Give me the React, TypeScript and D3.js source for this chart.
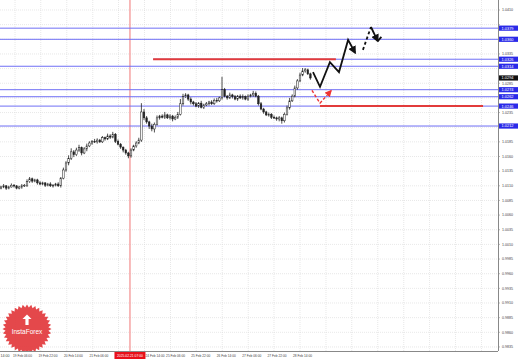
import React from "react";
import * as d3 from "d3";

const W = 519;
const H = 360;
const PLOT_RIGHT = 498;
const PLOT_BOTTOM = 351;

// Closing prices of each candle
const closes = [
  1.0108, 1.011, 1.0106, 1.0108, 1.0111, 1.011, 1.0106, 1.0108, 1.011, 1.0111,
  1.0117, 1.0122, 1.0118, 1.012,
  1.0115, 1.0113, 1.0115, 1.0111, 1.0113, 1.011, 1.0111, 1.0113, 1.011,
  1.0123, 1.0137, 1.0149, 1.0157,
  1.0168, 1.0163, 1.0171, 1.0175, 1.0166, 1.0173, 1.0178,
  1.0183, 1.0186, 1.0185, 1.0188, 1.0185,
  1.0192, 1.019, 1.0195, 1.0193, 1.0198,
  1.0186, 1.0181, 1.0176, 1.0171, 1.0166,
  1.0161,
  1.0171, 1.0178, 1.0183, 1.0188,
  1.0236, 1.0226,
  1.0219, 1.0212, 1.0207, 1.0215,
  1.0226, 1.0229, 1.0227, 1.0231, 1.0226, 1.0229, 1.0224, 1.0227, 1.0232,
  1.025, 1.0262, 1.0265, 1.0258, 1.0253,
  1.025, 1.0246, 1.0251, 1.0244, 1.0248, 1.025, 1.0253, 1.025,
  1.0256, 1.0255, 1.026,
  1.0274,
  1.0263, 1.026, 1.0265, 1.0262, 1.0258, 1.0263, 1.026, 1.0262, 1.0258, 1.0263, 1.0265, 1.0268, 1.0263,
  1.025, 1.0241, 1.0236, 1.0231, 1.0232,
  1.0227, 1.0226, 1.0224, 1.0226, 1.0221,
  1.0232, 1.0243, 1.0255, 1.0263,
  1.0277, 1.0289, 1.0299,
  1.0306, 1.0308, 1.0301, 1.0294,
];
const firstOpen = 1.0106;
// upper / lower wick lengths in pips
const wickUp = [2,3,1,2,3,2,1,2,3,2, 4,3,2,2, 2,3,2,1,2,3,2,2,3, 2,4,3,5, 6,3,4,5,2,3,4, 3,2,4,3,2, 3,2,4,3,4, 2,3,2,1,2, 2, 3,2,3,4, 15,5, 3,2,4,3, 4,2,3,5,2,3,2,3,4, 8,5,3,2,3, 2,3,2,4,2,3,2,3, 3,4,2, 22, 3,2,4,2,3,2,3,4,2,3,2,4,3, 2,3,2,2,3, 2,3,2,3,2, 3,4,5,3, 4,3,4, 5,3,2,2];
const wickDn = [2,2,3,2,1,3,2,2,3,2, 3,2,3,2, 3,2,2,3,2,2,3,2,2, 3,2,3,4, 3,4,2,3,4,2,4, 2,3,2,3,2, 2,3,2,3,2, 3,2,3,4,3, 4, 3,2,3,2, 3,4, 3,5,4,6, 2,3,2,3,2,3,4,2,3, 2,3,2,3,4, 3,2,3,2,3,2,3,2, 2,3,2, 3, 2,3,2,3,2,3,2,3,2,3,2,3,2, 3,2,3,2,3, 3,2,3,4,5, 3,2,3,2, 2,3,2, 2,3,2,3];

const priceTicks = [
  "1.0410", "1.0385", "1.0360", "1.0335", "1.0310", "1.0285", "1.0260", "1.0235",
  "1.0210", "1.0185", "1.0160", "1.0135", "1.0110", "1.0085", "1.0060", "1.0035",
  "1.0010", "0.9985", "0.9960", "0.9935", "0.9910", "0.9885", "0.9860", "0.9835",
];

// horizontal levels
const blueLevels = [1.0379, 1.036, 1.0314, 1.0274, 1.0262, 1.0246, 1.0212];
const blueLevelPartial = 1.0326;
const redLevels = [
  { price: 1.0326, from: 58.5, to: 128.8 },
  { price: 1.0246, from: 122.7, to: 185.4 },
];
const currentPrice = 1.0294;

// forecast paths (candle index, price)
const blackSolid = [
  [120, 1.0304], [122.7, 1.0279], [126.5, 1.0321], [130, 1.0304], [133.5, 1.0359], [136.2, 1.0337],
];
const blackDashed = [[139.2, 1.0342], [142.3, 1.0381]];
const blackTail = [[142.3, 1.0381], [144.9, 1.0357]];
const blackTail2 = [[144.9, 1.0357], [146.3, 1.0364]];
const redDashed = [[119.6, 1.0273], [122.7, 1.0251], [126.9, 1.0272]];

const markerIndex = 49.6;
const markerLabel = "2025.02.21 07:00";

const timeLabels = [
  "14:00", "19 Feb 06:00", "19 Feb 22:00", "20 Feb 14:00", "21 Feb 06:00",
  "24 Feb 14:00", "25 Feb 06:00", "25 Feb 22:00", "26 Feb 14:00",
  "27 Feb 06:00", "27 Feb 22:00", "28 Feb 14:00",
];
const timeLabelIdx = [-0.2, 4.6, 14.4, 24.2, 34.0, 55.6, 63.5, 73.2, 83.0, 92.8, 102.5, 112.3];
const gridIdx = [5.4, 15.3, 25.3, 35.3, 45.2, 55.2, 65.2, 75.1, 85.1, 95.1, 105.0, 115.0, 125.0, 134.9, 144.9, 154.9, 164.8, 174.8, 184.8];

const FONT = "'Liberation Sans', 'DejaVu Sans', sans-serif";

export default function App() {
  const x = d3.scaleLinear().domain([0, 191]).range([1, 1 + 191 * 2.6]);
  const y = d3.scaleLinear().domain([1.041, 0.9835]).range([10, 10 + 23 * 14.65]);

  const candles = closes.map((c, i) => {
    const o = i === 0 ? firstOpen : closes[i - 1];
    const hi = Math.max(o, c) + wickUp[i] * 0.0001;
    const lo = Math.min(o, c) - wickDn[i] * 0.0001;
    return { i, o, c, hi, lo };
  });

  const line = d3
    .line<number[]>()
    .x((d) => x(d[0]))
    .y((d) => y(d[1]));

  const boxLevels = [...blueLevels, blueLevelPartial, currentPrice];
  const visibleTicks = priceTicks.filter((t) => boxLevels.every((p) => Math.abs(y(+t) - y(p)) > 5.2));

  const star: string[] = [];
  const cx = 27, cy = 329, R = 24.5, r = 21.5, n = 36;
  for (let k = 0; k < n * 2; k++) {
    const rad = k % 2 === 0 ? R : r;
    const a = (Math.PI * k) / n;
    star.push(`${cx + rad * Math.cos(a)},${cy + rad * Math.sin(a)}`);
  }

  return (
    <svg
      width={W}
      height={H}
      style={{ position: "fixed", left: 0, top: 0, background: "#fff" }}
      fontFamily={FONT}
    >
      <defs>
        <marker id="ab" viewBox="0 0 10 10" refX="8" refY="5" markerWidth="4.5" markerHeight="4.5" orient="auto">
          <path d="M0,0 L10,5 L0,10 z" fill="#111" />
        </marker>
        <marker id="ar" viewBox="0 0 10 10" refX="8" refY="5" markerWidth="5" markerHeight="5" orient="auto">
          <path d="M0,0 L10,5 L0,10 z" fill="#e33" />
        </marker>
        <clipPath id="plot">
          <rect x={0} y={0} width={PLOT_RIGHT} height={PLOT_BOTTOM} />
        </clipPath>
      </defs>
      <rect x={0} y={0} width={W} height={H} fill="#fff" />
      <g clipPath="url(#plot)">
        {priceTicks.map((t) => (
          <line key={t} x1={0} x2={PLOT_RIGHT} y1={y(+t)} y2={y(+t)} stroke="#d8d8d8" strokeWidth={0.6} strokeDasharray="1,1" />
        ))}
        {gridIdx.map((g) => (
          <line key={g} x1={x(g)} x2={x(g)} y1={0} y2={PLOT_BOTTOM} stroke="#d8d8d8" strokeWidth={0.6} strokeDasharray="1,1" />
        ))}
        <line x1={x(markerIndex)} x2={x(markerIndex)} y1={0} y2={PLOT_BOTTOM} stroke="#f5a3a3" strokeWidth={1.5} />
        {blueLevels.map((p) => (
          <line key={p} x1={0} x2={PLOT_RIGHT} y1={y(p)} y2={y(p)} stroke="#6f6ff5" strokeWidth={1} />
        ))}
        <line x1={x(redLevels[0].from)} x2={PLOT_RIGHT} y1={y(blueLevelPartial)} y2={y(blueLevelPartial)} stroke="#6f6ff5" strokeWidth={1} />
        {redLevels.map((l) => (
          <line key={l.price} x1={x(l.from)} x2={x(l.to)} y1={y(l.price)} y2={y(l.price)} stroke="#e23b3b" strokeWidth={2} />
        ))}
        {candles.map((d) => {
          const bull = d.c >= d.o;
          const top = y(Math.max(d.o, d.c));
          const bot = y(Math.min(d.o, d.c));
          return (
            <g key={d.i}>
              <line x1={x(d.i)} x2={x(d.i)} y1={y(d.hi)} y2={y(d.lo)} stroke="#222" strokeWidth={0.8} />
              <rect
                x={x(d.i) - 0.8}
                y={top}
                width={1.6}
                height={Math.max(0.8, bot - top)}
                fill={bull ? "#fff" : "#222"}
                stroke="#222"
                strokeWidth={0.5}
              />
            </g>
          );
        })}
        <path d={line(blackSolid) || ""} fill="none" stroke="#111" strokeWidth={1.8} markerEnd="url(#ab)" />
        <path d={line(blackDashed) || ""} fill="none" stroke="#111" strokeWidth={1.8} strokeDasharray="3,2.5" />
        <path d={line(blackTail) || ""} fill="none" stroke="#111" strokeWidth={1.8} markerEnd="url(#ab)" />
        <path d={line(blackTail2) || ""} fill="none" stroke="#111" strokeWidth={1.8} />
        <path d={line(redDashed) || ""} fill="none" stroke="#e33" strokeWidth={1.4} strokeDasharray="3,2" markerEnd="url(#ar)" />
        <polygon points={star.join(" ")} fill="#e2383c" opacity={0.92} />
        <g fill="#fff">
          <rect x={cx - 1.6} y={cy - 11} width={3.2} height={7} />
          <path d={`M${cx - 4.5},${cy - 10} L${cx},${cy - 14.5} L${cx + 4.5},${cy - 10} z`} />
        </g>
        <text x={cx} y={cy + 5} fontSize={6.5} fill="#fff" textAnchor="middle">InstaForex</text>
      </g>
      <line x1={PLOT_RIGHT + 0.5} x2={PLOT_RIGHT + 0.5} y1={0} y2={PLOT_BOTTOM} stroke="#888" strokeWidth={1} />
      <line x1={0} x2={PLOT_RIGHT} y1={PLOT_BOTTOM + 0.5} y2={PLOT_BOTTOM + 0.5} stroke="#888" strokeWidth={1} />
      {priceTicks.map((t) => (
        <line key={"tk" + t} x1={PLOT_RIGHT} x2={PLOT_RIGHT + 2} y1={y(+t)} y2={y(+t)} stroke="#888" strokeWidth={0.6} />
      ))}
      {visibleTicks.map((t) => (
        <text key={t} x={PLOT_RIGHT + 4} y={y(+t) + 1.3} fontSize={3.8} fill="#444" textLength={11} lengthAdjust="spacingAndGlyphs">
          {t}
        </text>
      ))}
      {[...blueLevels, blueLevelPartial].map((p) => (
        <g key={"b" + p}>
          <rect x={PLOT_RIGHT + 1} y={y(p) - 2.6} width={19} height={5.2} fill="#2a2ae8" />
          <text x={PLOT_RIGHT + 3.5} y={y(p) + 1.4} fontSize={3.8} fill="#fff" textLength={12} lengthAdjust="spacingAndGlyphs">
            {p.toFixed(4)}
          </text>
        </g>
      ))}
      <rect x={PLOT_RIGHT + 1} y={y(currentPrice) - 2.6} width={19} height={5.2} fill="#111" />
      <text x={PLOT_RIGHT + 3.5} y={y(currentPrice) + 1.4} fontSize={3.8} fill="#fff" textLength={12} lengthAdjust="spacingAndGlyphs">
        {currentPrice.toFixed(4)}
      </text>
      {timeLabels.map((t, k) => (
        <text
          key={t}
          x={x(timeLabelIdx[k])}
          y={356.5}
          fontSize={3.8}
          fill="#444"
          textLength={t.length > 6 ? 19 : 9}
          lengthAdjust="spacingAndGlyphs"
        >
          {t}
        </text>
      ))}
      <rect x={x(markerIndex) - 15.5} y={352} width={31} height={7} fill="#e8101a" />
      <text x={x(markerIndex)} y={356.8} fontSize={3.8} fill="#fff" textAnchor="middle" textLength={26} lengthAdjust="spacingAndGlyphs">
        {markerLabel}
      </text>
    </svg>
  );
}
